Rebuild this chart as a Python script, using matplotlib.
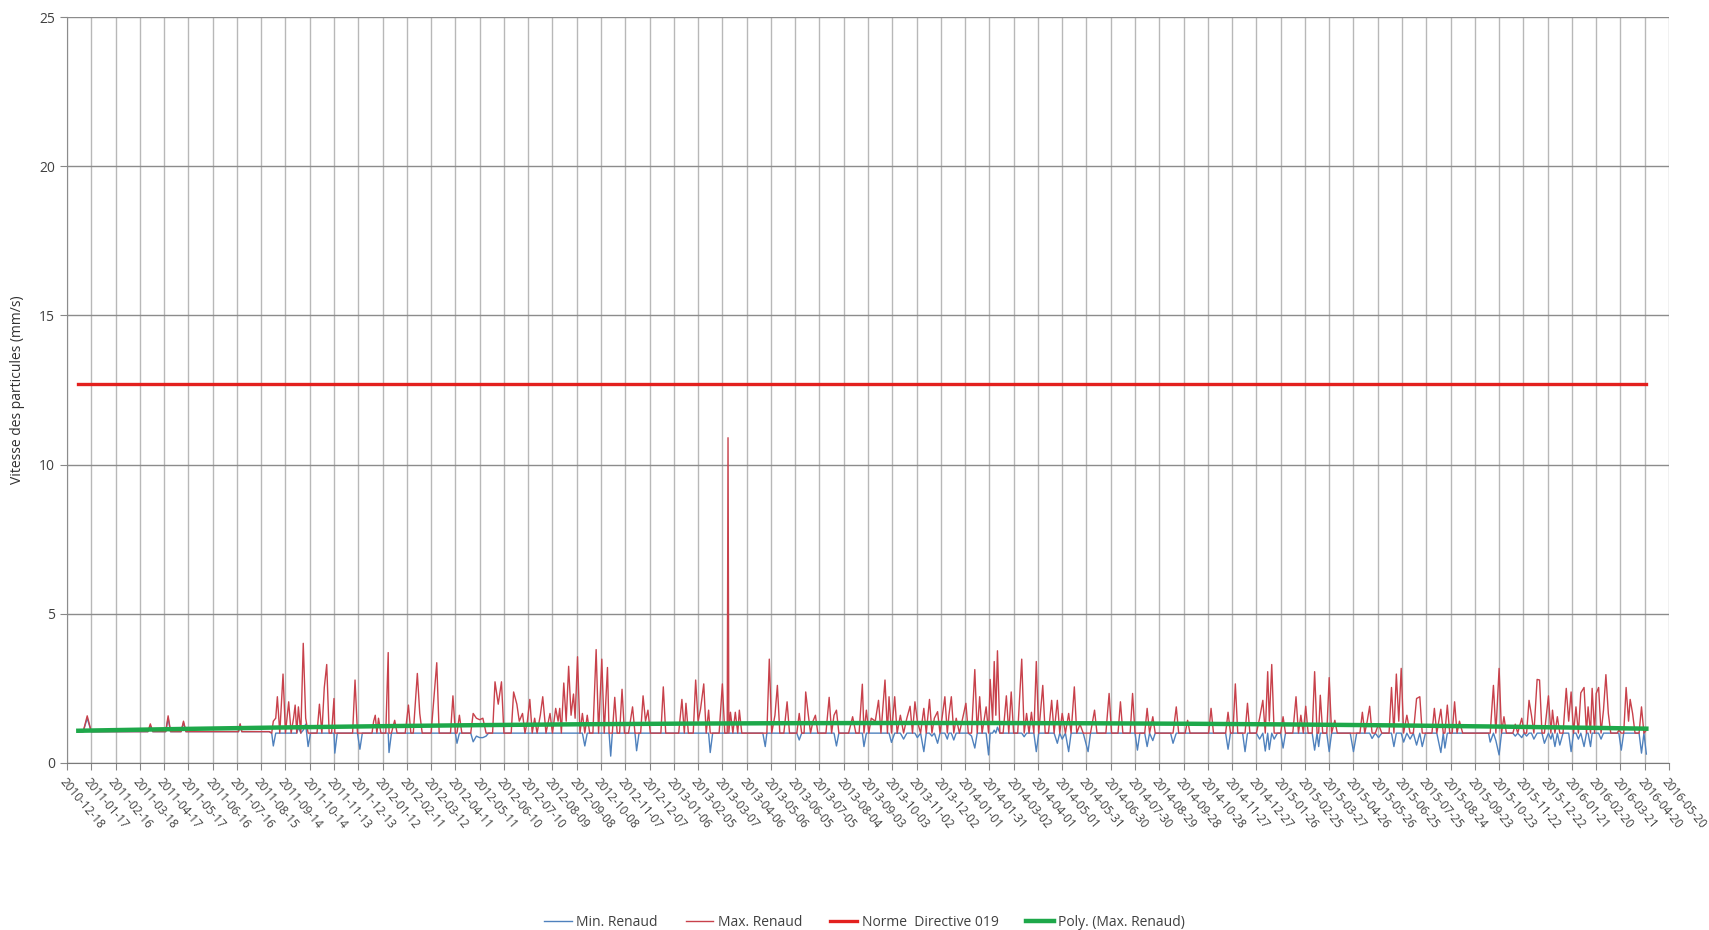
import numpy as np
import matplotlib
matplotlib.use("Agg")
import matplotlib.pyplot as plt

# readings: (days since 2010-12-18, max Renaud, min Renaud) in mm/s
readings_2011a = [
    (14, 1.05, 1.05), (20, 1.05, 1.05), (25, 1.58, 1.5), (30, 1.05, 1.05),
    (100, 1.05, 1.05), (103, 1.31, 1.25), (106, 1.05, 1.05), (122, 1.05, 1.05),
    (125, 1.58, 1.5), (128, 1.05, 1.05), (141, 1.05, 1.05), (144, 1.4, 1.35),
    (147, 1.05, 1.05), (212, 1.05, 1.05), (214, 1.31, 1.3), (216, 1.05, 1.05),
    (250, 1.05, 1.05),
]
readings_2011b = [
    (253, 1.0, 1.0), (255, 1.4, 0.57), (258, 1.5, 1.0), (260, 2.22, 1.0), (263, 1.0, 1.0),
    (267, 2.98, 1.0), (270, 1.0, 1.0), (274, 2.05, 1.0), (277, 1.0, 1.0), (280, 1.5, 1.0),
    (282, 1.94, 1.0), (284, 1.0, 1.0), (286, 1.88, 1.2), (289, 1.0, 1.0), (292, 4.01, 1.1),
    (295, 1.5, 1.3), (298, 1.0, 0.55), (301, 1.0, 1.0), (309, 1.0, 1.0), (312, 1.97, 1.0),
    (315, 1.0, 1.0), (318, 2.53, 1.0), (321, 3.3, 1.0), (324, 1.0, 1.0), (327, 1.0, 1.0),
    (330, 2.16, 1.0), (331, 1.0, 0.33), (334, 1.0, 1.0), (353, 1.0, 1.0), (356, 2.78, 1.0),
    (359, 1.0, 1.0), (362, 1.0, 0.46), (365, 1.0, 1.0), (377, 1.0, 1.0), (379, 1.4, 1.0),
    (381, 1.6, 1.0), (383, 1.0, 1.0), (385, 1.5, 1.0), (388, 1.0, 1.0), (394, 1.0, 1.0),
    (397, 3.7, 1.0), (398, 1.0, 0.35), (401, 1.0, 1.0), (405, 1.43, 1.0), (408, 1.0, 1.0),
    (418, 1.0, 1.0), (422, 1.94, 1.0), (425, 1.0, 1.0), (428, 1.0, 1.0), (433, 3.0, 1.0),
    (436, 1.66, 1.0), (439, 1.0, 1.0), (450, 1.0, 1.0), (457, 3.36, 1.0), (460, 1.0, 1.0),
    (474, 1.0, 1.0), (477, 2.25, 1.0), (480, 1.0, 1.0), (482, 1.0, 0.66), (485, 1.6, 1.0),
    (488, 1.0, 1.0), (499, 1.0, 1.0), (502, 1.66, 0.71), (506, 1.5, 0.9), (510, 1.45, 0.85),
    (514, 1.5, 0.85), (518, 1.0, 0.9), (521, 1.0, 1.0), (526, 1.0, 1.0), (529, 2.72, 1.0),
    (533, 1.97, 1.0), (537, 2.72, 1.0), (540, 1.0, 1.0),
]
readings_2012 = [
    (549, 1.0, 1.0), (552, 2.38, 1.0), (556, 1.97, 1.0), (559, 1.4, 1.0), (563, 1.66, 1.0),
    (566, 1.0, 1.0), (569, 1.4, 1.0), (572, 2.13, 1.0), (575, 1.0, 1.0), (578, 1.5, 1.0),
    (581, 1.0, 1.0), (585, 1.6, 1.0), (588, 2.22, 1.0), (592, 1.0, 1.0), (597, 1.66, 1.0),
    (600, 1.0, 1.0), (604, 1.83, 1.0), (607, 1.4, 1.0), (609, 1.83, 1.0), (611, 1.0, 1.0),
    (614, 2.68, 1.0), (617, 1.4, 1.0), (620, 3.24, 1.0), (623, 1.6, 1.0), (626, 2.31, 1.0),
    (628, 1.5, 1.0), (631, 3.56, 1.0), (634, 1.0, 1.0), (637, 1.66, 1.0), (640, 1.0, 0.57),
    (643, 1.6, 1.0), (646, 1.0, 1.0), (650, 1.0, 1.0), (654, 3.8, 1.0), (657, 1.0, 1.0),
    (661, 3.48, 1.0), (664, 1.0, 1.0), (668, 3.2, 1.0), (670, 1.0, 1.0), (672, 1.0, 0.23),
    (674, 1.0, 1.0), (677, 2.2, 1.0), (680, 1.0, 1.0), (683, 1.0, 1.0), (686, 2.47, 1.0),
    (689, 1.0, 1.0), (694, 1.0, 1.0), (699, 1.88, 1.0), (702, 1.0, 1.0), (704, 1.0, 0.41),
    (707, 1.0, 1.0), (709, 1.0, 1.0), (712, 2.25, 1.0), (715, 1.4, 1.0), (718, 1.77, 1.0),
    (721, 1.0, 1.0), (734, 1.0, 1.0), (737, 2.55, 1.0), (740, 1.0, 1.0), (756, 1.0, 1.0),
    (760, 2.13, 1.0), (763, 1.0, 1.0), (765, 2.0, 1.0), (768, 1.0, 1.0), (774, 1.0, 1.0),
    (777, 2.78, 1.0), (780, 1.4, 1.0), (783, 1.8, 1.0), (787, 2.65, 1.0), (790, 1.0, 1.0),
    (793, 1.77, 1.0), (795, 1.0, 0.35), (798, 1.0, 1.0), (806, 1.0, 1.0), (810, 2.65, 1.0),
    (813, 1.0, 1.0), (816, 1.0, 1.0), (817, 10.9, 1.0), (818, 1.0, 1.0), (820, 1.7, 1.0),
    (823, 1.0, 1.0), (826, 1.7, 1.0), (829, 1.0, 1.0), (831, 1.77, 1.0), (834, 1.0, 1.0),
]
readings_2013 = [
    (850, 1.0, 1.0), (855, 1.0, 1.0), (860, 1.0, 1.0), (863, 1.0, 0.55), (865, 1.0, 1.0),
    (868, 3.48, 1.0), (871, 1.0, 1.0), (875, 1.6, 1.0), (878, 2.6, 1.0), (881, 1.0, 1.0),
    (886, 1.0, 1.0), (890, 2.05, 1.0), (893, 1.0, 1.0), (902, 1.0, 1.0), (905, 1.66, 0.77),
    (908, 1.0, 1.0), (911, 1.0, 1.0), (913, 2.38, 1.0), (916, 1.66, 1.0), (919, 1.0, 1.0),
    (922, 1.4, 1.0), (925, 1.6, 1.0), (928, 1.0, 1.0), (938, 1.0, 1.0), (942, 2.2, 1.0),
    (945, 1.0, 1.0), (948, 1.6, 1.0), (951, 1.77, 0.57), (954, 1.0, 1.0), (966, 1.0, 1.0),
    (971, 1.55, 1.0), (975, 1.0, 1.0), (979, 1.0, 1.0), (983, 2.64, 1.0), (985, 1.0, 0.55),
    (988, 1.77, 1.0), (991, 1.0, 1.0), (994, 1.5, 1.0), (999, 1.4, 1.0), (1003, 2.1, 1.0),
    (1006, 1.0, 1.0), (1011, 2.78, 1.0), (1014, 1.0, 1.0), (1016, 2.22, 1.0), (1019, 1.0, 0.69),
    (1023, 2.22, 1.0), (1026, 1.0, 1.0), (1030, 1.6, 1.0), (1034, 1.0, 0.8), (1038, 1.5, 1.0),
    (1042, 1.9, 1.0), (1045, 1.0, 1.0), (1048, 2.05, 1.0), (1051, 1.4, 0.85), (1055, 1.0, 1.0),
    (1059, 1.83, 0.38), (1062, 1.0, 1.0), (1066, 2.13, 1.0), (1069, 1.0, 0.9), (1072, 1.5, 1.0),
    (1076, 1.72, 0.66), (1079, 1.0, 1.0), (1082, 1.6, 1.0), (1085, 2.22, 1.0), (1088, 1.0, 0.8),
    (1090, 1.6, 1.0), (1093, 2.22, 1.0), (1096, 1.0, 0.77), (1099, 1.5, 1.0), (1103, 1.0, 1.0),
    (1107, 1.5, 1.0), (1111, 2.0, 1.0), (1114, 1.0, 1.0), (1118, 1.0, 0.9), (1122, 3.13, 0.5),
    (1125, 1.0, 1.0), (1128, 2.22, 1.0), (1131, 1.0, 1.0), (1136, 1.88, 1.0), (1139, 1.0, 0.27),
    (1141, 2.8, 1.0), (1144, 1.4, 1.0), (1146, 3.4, 1.1), (1148, 1.6, 1.0), (1150, 3.76, 1.2),
    (1153, 1.0, 1.0), (1157, 1.0, 1.0), (1161, 2.25, 1.0), (1164, 1.0, 1.0), (1167, 2.38, 1.0),
    (1170, 1.0, 1.0),
]
readings_2014 = [
    (1175, 1.0, 1.0), (1180, 3.48, 1.0), (1183, 1.0, 0.88), (1186, 1.66, 1.0), (1189, 1.0, 1.0),
    (1192, 1.7, 1.0), (1195, 1.0, 1.0), (1198, 3.4, 0.38), (1201, 1.0, 1.0), (1206, 2.6, 1.0),
    (1209, 1.0, 1.0), (1213, 1.0, 1.0), (1217, 2.1, 1.0), (1220, 1.0, 1.0), (1224, 2.1, 0.66),
    (1227, 1.0, 1.0), (1230, 1.66, 0.8), (1234, 1.0, 1.0), (1238, 1.66, 0.38), (1241, 1.0, 1.0),
    (1245, 2.55, 1.0), (1248, 1.0, 1.0), (1252, 1.3, 1.0), (1256, 1.0, 1.0), (1262, 1.0, 0.38),
    (1265, 1.0, 1.0), (1270, 1.77, 1.0), (1273, 1.0, 1.0), (1284, 1.0, 1.0), (1288, 2.33, 1.0),
    (1291, 1.0, 1.0), (1299, 1.0, 1.0), (1302, 2.05, 1.0), (1305, 1.0, 1.0), (1314, 1.0, 1.0),
    (1317, 2.33, 1.0), (1320, 1.0, 1.0), (1323, 1.0, 0.43), (1326, 1.0, 1.0), (1332, 1.0, 1.0),
    (1335, 1.83, 0.55), (1338, 1.0, 1.0), (1342, 1.55, 0.75), (1345, 1.0, 1.0), (1364, 1.0, 1.0),
    (1367, 1.0, 0.66), (1371, 1.88, 1.0), (1374, 1.0, 1.0), (1382, 1.0, 1.0), (1385, 1.43, 1.0),
    (1388, 1.0, 1.0), (1411, 1.0, 1.0), (1414, 1.83, 1.0), (1417, 1.0, 1.0), (1432, 1.0, 1.0),
    (1435, 1.7, 0.46), (1438, 1.0, 1.0), (1441, 1.0, 1.0), (1444, 2.65, 1.0), (1447, 1.0, 1.0),
    (1453, 1.0, 1.0), (1456, 1.0, 0.38), (1459, 2.0, 1.0), (1462, 1.0, 1.0), (1470, 1.0, 1.0),
    (1474, 1.5, 0.8), (1478, 2.1, 1.0), (1481, 1.0, 0.4), (1484, 3.06, 1.0), (1486, 1.4, 0.45),
    (1489, 3.3, 1.0), (1492, 1.0, 0.8), (1496, 1.0, 1.0), (1500, 1.0, 1.0), (1503, 1.55, 0.5),
    (1506, 1.0, 1.0), (1515, 1.0, 1.0),
]
readings_2015 = [
    (1519, 2.22, 1.0), (1522, 1.0, 1.0), (1525, 1.6, 1.0), (1528, 1.0, 1.0), (1531, 1.9, 1.0),
    (1534, 1.0, 1.0), (1539, 1.0, 1.0), (1542, 3.06, 0.43), (1545, 1.0, 1.0), (1547, 1.0, 0.55),
    (1549, 2.27, 1.0), (1552, 1.0, 1.0), (1557, 1.0, 1.0), (1560, 2.86, 0.38), (1563, 1.0, 1.0),
    (1567, 1.43, 1.0), (1570, 1.0, 1.0), (1586, 1.0, 1.0), (1590, 1.0, 0.38), (1594, 1.0, 1.0),
    (1598, 1.0, 1.0), (1601, 1.7, 1.0), (1604, 1.0, 1.0), (1607, 1.4, 1.0), (1610, 1.9, 1.0),
    (1613, 1.0, 0.82), (1617, 1.0, 1.0), (1621, 1.3, 0.85), (1625, 1.0, 1.0), (1630, 1.0, 1.0),
    (1634, 1.0, 1.0), (1637, 2.53, 1.0), (1640, 1.0, 0.55), (1643, 2.98, 1.0), (1646, 1.4, 1.0),
    (1649, 3.17, 1.0), (1652, 1.0, 0.7), (1656, 1.6, 1.0), (1660, 1.0, 0.8), (1664, 1.0, 1.0),
    (1668, 2.16, 0.6), (1672, 2.22, 1.0), (1675, 1.0, 0.55), (1679, 1.0, 1.0), (1683, 1.0, 1.0),
    (1687, 1.0, 1.0), (1690, 1.83, 1.0), (1693, 1.0, 1.0), (1698, 1.8, 0.35), (1701, 1.0, 1.0),
    (1703, 1.0, 0.5), (1706, 1.94, 1.0), (1709, 1.0, 1.0), (1712, 1.0, 1.0), (1715, 2.05, 1.0),
    (1718, 1.0, 1.0), (1721, 1.4, 1.0), (1725, 1.0, 1.0), (1734, 1.0, 1.0), (1757, 1.0, 1.0),
    (1759, 1.0, 0.7), (1763, 2.6, 1.0), (1766, 1.0, 0.75), (1770, 3.17, 0.27), (1773, 1.0, 1.0),
    (1776, 1.55, 1.0), (1779, 1.0, 1.0), (1787, 1.0, 1.0), (1790, 1.3, 0.9), (1793, 1.0, 1.0),
    (1798, 1.5, 0.85), (1801, 1.0, 1.0), (1804, 1.0, 0.9), (1807, 2.1, 1.0), (1810, 1.6, 1.0),
    (1813, 1.0, 0.8), (1817, 2.8, 1.0), (1820, 2.78, 1.0), (1823, 1.0, 1.0),
]
readings_2016 = [
    (1826, 1.0, 0.66), (1831, 2.25, 1.0), (1834, 1.0, 0.8), (1836, 1.77, 1.0), (1839, 1.0, 0.55),
    (1842, 1.55, 1.0), (1845, 1.0, 0.6), (1849, 1.0, 1.0), (1853, 2.5, 1.0), (1856, 1.4, 1.0),
    (1859, 2.38, 0.38), (1862, 1.0, 1.0), (1865, 1.88, 1.0), (1868, 1.0, 0.8), (1871, 2.35, 1.0),
    (1875, 2.53, 0.55), (1878, 1.0, 1.0), (1880, 1.88, 1.0), (1883, 1.0, 0.55), (1885, 2.5, 1.0),
    (1888, 1.0, 1.0), (1890, 2.33, 1.0), (1893, 2.53, 1.0), (1896, 1.0, 0.8), (1899, 1.77, 1.0),
    (1902, 2.96, 1.0), (1905, 1.66, 1.0), (1908, 1.0, 1.0), (1916, 1.0, 1.0), (1918, 1.1, 1.0),
    (1921, 1.0, 0.43), (1924, 1.0, 1.0), (1927, 2.53, 1.0), (1930, 1.4, 1.0), (1932, 2.13, 1.0),
    (1935, 1.66, 1.0), (1938, 1.0, 1.0), (1943, 1.0, 1.0), (1946, 1.88, 0.33), (1949, 1.0, 1.0),
    (1952, 1.1, 0.3),
]

# polynomial trend "Poly. (Max. Renaud)": start, top, end
trend_days = [14, 1059, 1952]
trend_values = [1.08, 1.34, 1.15]

norme_directive = 12.7
start_date = np.datetime64('2010-12-18')
end_date = np.datetime64('2016-05-20')

all_readings = (readings_2011a + readings_2011b + readings_2012 + readings_2013
                + readings_2014 + readings_2015 + readings_2016)
days = np.array([r[0] for r in all_readings])
max_renaud = np.array([r[1] for r in all_readings])
min_renaud = np.array([r[2] for r in all_readings])
dates = start_date + days.astype('timedelta64[D]')

coef = np.polyfit(trend_days, trend_values, 2)
daily = np.arange(days[0], days[-1] + 1)
trend = np.polyval(coef, daily)
trend_dates = start_date + daily.astype('timedelta64[D]')

plt.rcParams['font.family'] = ['Open Sans', 'DejaVu Sans']

fig = plt.figure(figsize=(17.09, 9.30), dpi=100)
ax = fig.add_axes([0.0392, 0.1796, 0.9374, 0.8021])

ax.plot(dates, min_renaud, color='#4f81bd', lw=1.0, label='Min. Renaud')
ax.plot(dates, max_renaud, color='#c8414b', lw=1.0, label='Max. Renaud')
ax.plot([dates[0], dates[-1]], [norme_directive, norme_directive], color='#e3201e', lw=2.4,
        label='Norme  Directive 019')
ax.plot(trend_dates, trend, color='#1ea84a', lw=3.2, label='Poly. (Max. Renaud)')

ticks = start_date + np.arange(0, 1981, 30).astype('timedelta64[D]')
ax.set_xticks(ticks)
ax.set_xticklabels([str(t) for t in ticks], rotation=-50, ha='left', va='top',
                   rotation_mode='anchor', fontsize=8.5, color='#404040')
ax.set_xlim(start_date, end_date)
ax.set_ylim(0, 25)
ax.set_yticks(range(0, 26, 5))
ax.tick_params(axis='y', labelsize=10, colors='#404040', length=5, color='#888888')
ax.tick_params(axis='x', length=5, color='#888888', pad=4)

ax.grid(axis='x', color='#b8b8b8', lw=1.0)
ax.grid(axis='y', color='#8c8c8c', lw=1.0)
ax.set_axisbelow(True)
for s in ['top', 'right']:
    ax.spines[s].set_visible(False)
ax.spines['left'].set_color('#8c8c8c')
ax.spines['bottom'].set_color('#7a7a7a')

ax.set_ylabel('Vitesse des particules (mm/s)', fontsize=10, color='#303030', labelpad=10)

leg = fig.legend(loc='center', bbox_to_anchor=(0.506, 0.008), ncol=4, frameon=False,
                 fontsize=10, handlelength=2.0, columnspacing=2.0, handletextpad=0.3)
for t in leg.get_texts():
    t.set_color('#404040')

fig.savefig('out.png', dpi=100)
